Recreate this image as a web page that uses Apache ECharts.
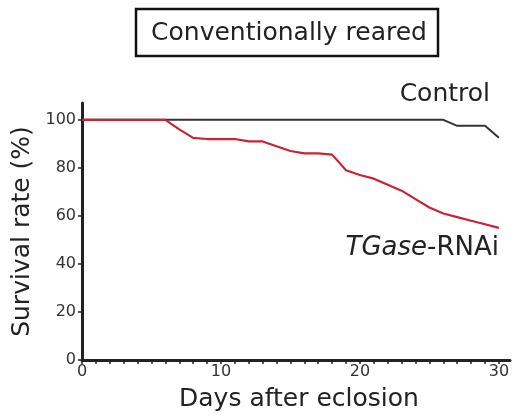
<!DOCTYPE html>
<html><head><meta charset="utf-8">
<script src="https://cdn.jsdelivr.net/npm/echarts@6/dist/echarts.min.js"></script>
<style>html,body{margin:0;padding:0;background:#fff}#c{width:515px;height:419px}</style>
</head><body><div id="c"></div>
<script>
const days = [0,1,2,3,4,5,6,7,8,9,10,11,12,13,14,15,16,17,18,19,20,21,22,23,24,25,26,27,28,29,30];
const control = [100,100,100,100,100,100,100,100,100,100,100,100,100,100,100,100,100,100,100,100,100,100,100,100,100,100,100,97.5,97.5,97.5,92.5];
const tgase = [100,100,100,100,100,100,100,96,92.5,92,92,92,91,91,89,87,86,86,85.5,79,77,75.5,73,70.5,67,63.5,61,59.5,58,56.5,55];
const yTicks = [0,20,40,60,80,100];
const xLabels = [0,10,20,30];
const xTicks = days;
const FONT = 'DejaVu Sans';

const chart = echarts.init(document.getElementById('c'), null, {renderer:'canvas'});
chart.setOption({
  animation:false,
  textStyle:{fontFamily:FONT},
  grid:{left:82,right:5,top:103,bottom:59},
  xAxis:{type:'value',min:0,max:30.8,
    name:'Days after eclosion',nameLocation:'middle',nameGap:27,
    nameTextStyle:{fontSize:25,color:'#222',fontFamily:FONT,padding:[0,0,0,6]},
    axisLine:{lineStyle:{color:'#222',width:3}},
    axisTick:{show:true,customValues:xTicks,length:4,lineStyle:{color:'#222',width:1.5}},
    axisLabel:{customValues:xLabels,fontSize:16,color:'#333',margin:4,fontFamily:FONT},
    splitLine:{show:false}},
  yAxis:{type:'value',min:0,max:107,
    name:'Survival rate (%)',nameLocation:'middle',nameGap:38,nameRotate:90,
    nameTextStyle:{fontSize:25,color:'#222',fontFamily:FONT},
    axisLine:{show:true,lineStyle:{color:'#222',width:3}},
    axisTick:{show:true,customValues:yTicks,length:4,lineStyle:{color:'#222',width:1.5}},
    axisLabel:{customValues:yTicks,fontSize:16,color:'#333',margin:6,fontFamily:FONT},
    splitLine:{show:false}},
  series:[
    {type:'line',data:days.map((d,i)=>[d,control[i]]),showSymbol:false,
      lineStyle:{color:'#333',width:2},z:2},
    {type:'line',data:days.map((d,i)=>[d,tgase[i]]),showSymbol:false,
      lineStyle:{color:'#cc2233',width:2.2},z:3}
  ],
  graphic:[
    {type:'rect',shape:{x:136,y:9,width:302,height:47},
      style:{fill:'#fff',stroke:'#111',lineWidth:2.5}},
    {type:'text',x:289,y:33,style:{text:'Conventionally reared',fontSize:25,fontFamily:FONT,
      fill:'#222',align:'center',verticalAlign:'middle'}},
    {type:'text',x:490,y:94,style:{text:'Control',fontSize:25,fontFamily:FONT,
      fill:'#222',align:'right',verticalAlign:'middle'}},
    {type:'text',x:499,y:248,style:{text:'{i|TGase}-RNAi',fontSize:26,fontFamily:FONT,
      fill:'#222',align:'right',verticalAlign:'middle',
      rich:{i:{fontStyle:'italic',fontSize:26,fontFamily:FONT,fill:'#222'}}}}
  ]
});
</script></body></html>
